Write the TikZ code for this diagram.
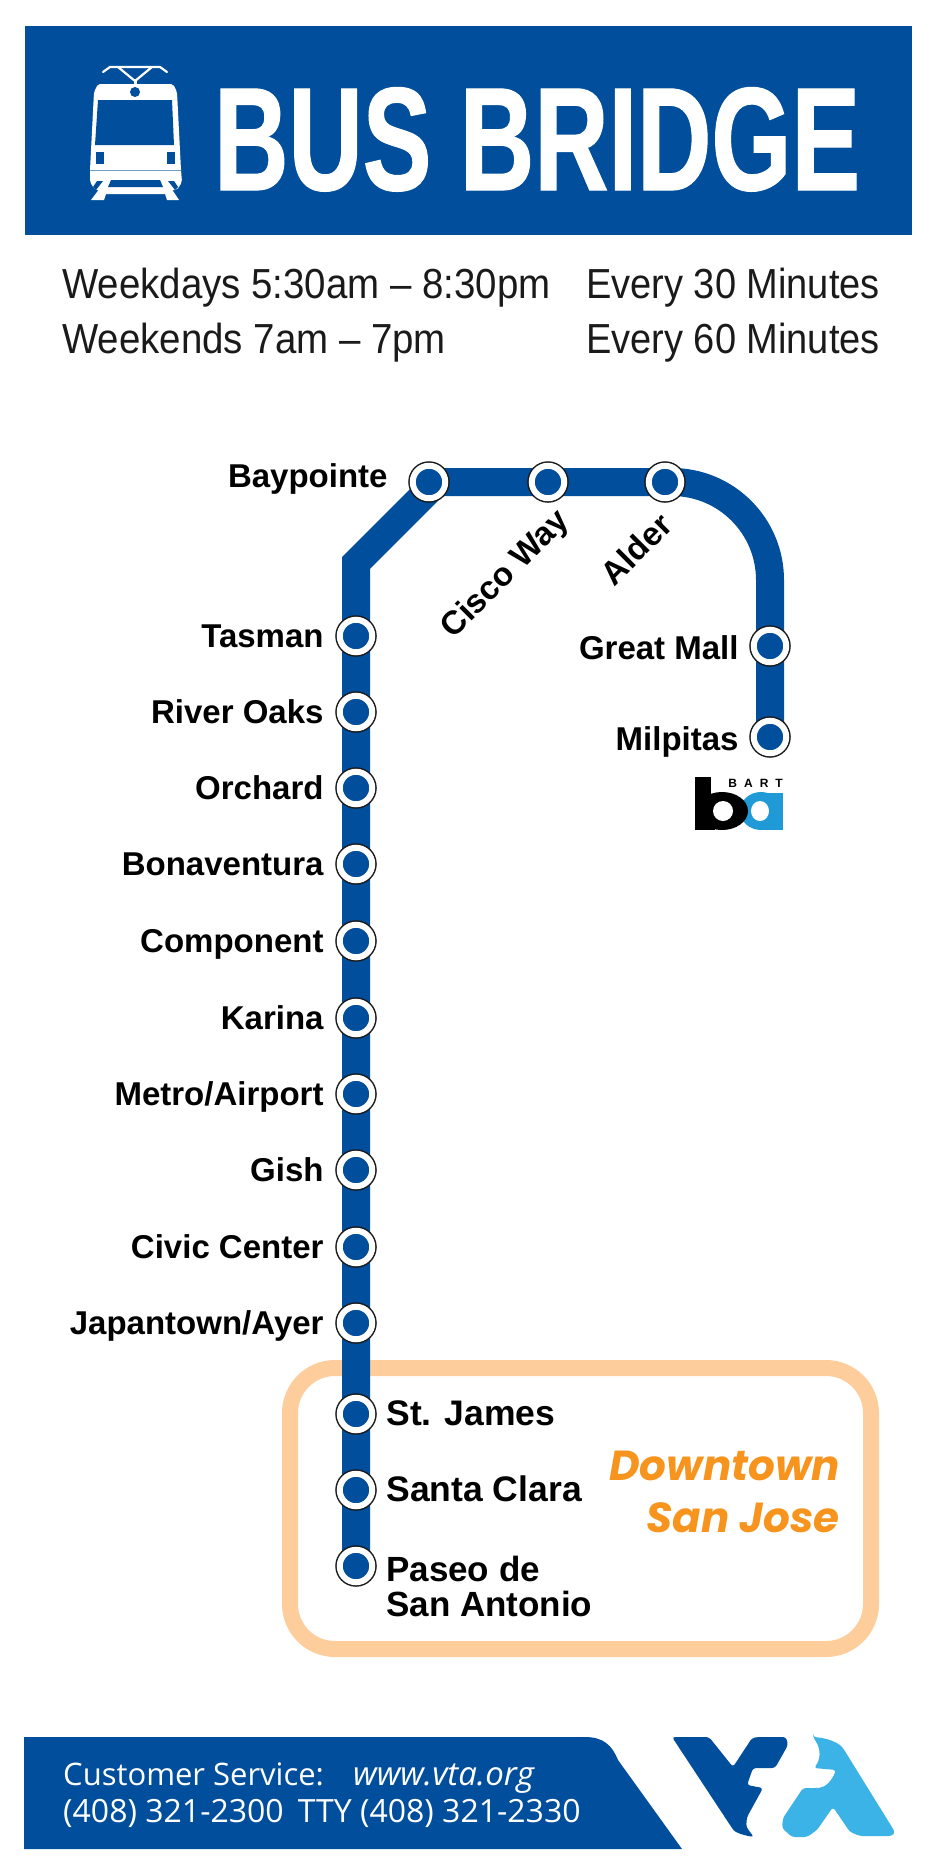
\documentclass[tikz,border=0pt]{standalone}
\usepackage{fontspec}
\setmainfont{Liberation Sans}
\newfontfamily\headfont[FakeStretch=0.70,BoldFeatures={FakeBold=0.8}]{Liberation Sans}
\newfontfamily\hoursfont[FakeStretch=0.915]{Liberation Sans}
\newfontfamily\everyfont[FakeStretch=0.905]{Liberation Sans}
\newfontfamily\downtownfont{Poppins}
\newfontfamily\servicefont{Open Sans}
\usetikzlibrary{positioning,backgrounds}

\definecolor{vtablue}{HTML}{004E9C}
\definecolor{vtasky}{HTML}{3BB3E6}
\definecolor{bartblue}{HTML}{1F9AD6}
\definecolor{zonepeach}{HTML}{FDCD9B}
\definecolor{zoneorange}{HTML}{F7941E}
\definecolor{inkdark}{HTML}{1A1A1A}

\begin{document}
\begin{tikzpicture}[x=1pt,y=-1pt,
	station/.style={circle, inner sep=0pt, outer sep=0pt, minimum size=32.5pt, fill=vtablue, draw=white, line width=6pt, preaction={draw=inkdark, line width=9pt}},
	stopname/.style={font=\fontsize{33}{35}\selectfont\bfseries, inner sep=0pt, text=black},
	stoplabel/.style={stopname, text height=23pt, text depth=0pt},
	zonelabel/.style={stoplabel, font=\fontsize{35.5}{38}\selectfont\bfseries},
	hours/.style={font=\fontsize{42}{46}\selectfont\hoursfont, inner sep=0pt, text=inkdark, anchor=base west},
	service/.style={font=\fontsize{31}{34}\selectfont\servicefont, inner sep=0pt, text=white, anchor=base west},
	zonetext/.style={font=\fontsize{42}{46}\selectfont\downtownfont\bfseries\itshape, inner sep=0pt, text=zoneorange, anchor=base east}]

	\useasboundingbox (0,0) rectangle (938,1876);

	% Header
	\fill[vtablue] (25,26) rectangle (912,235);
	\node[font=\fontsize{147}{150}\selectfont\headfont\bfseries, text=white, inner sep=0pt, anchor=base west] (title) at (214,190) {BUS BRIDGE};

	% Tram
	\fill[white, rounded corners=2pt] (98,84) -- (173,84) -- (177,92) -- (181,170) -- (182,182) -- (177,190) -- (95,190) -- (90,182) -- (90,170) -- (94,92) -- cycle;
	\fill[vtablue] (98,100) -- (172,100) -- (174,145) -- (95,145) -- cycle;
	\fill[vtablue] (135,92) circle (5);
	\fill[vtablue] (96,152) rectangle (104,164);
	\fill[vtablue] (167,152) rectangle (175,164);
	\draw[vtablue!55!white, line width=1pt] (90,170) -- (181,170);
	\fill[vtablue] (111,180) -- (160,180) -- (163,187) -- (108,187) -- cycle;
	\fill[vtablue] (97,181) -- (103,181) -- (96,190) -- (93,187) -- cycle;
	\fill[vtablue] (168,181) -- (174,181) -- (178,187) -- (175,190) -- cycle;
	\fill[white] (100,188) -- (171,188) -- (179,200) -- (167,200) -- (165,194) -- (106,194) -- (104,200) -- (91,200) -- cycle;
	\draw[white, line width=2.2pt, line cap=round] (103,72) -- (110,67) -- (160,67) -- (167,72);
	\draw[white, line width=2.2pt] (118,67) -- (135,81) -- (152,67);
	\draw[white, line width=3pt] (135,79) -- (135,86);

	% Times
	\node[hours] (weekdays) at (62,298) {Weekdays 5:30am – 8:30pm};
	\node[hours] (weekends) at (62,353) {Weekends 7am – 7pm};
	\node[hours, font=\fontsize{42}{46}\selectfont\everyfont] (everythirty) at (586,298) {Every 30 Minutes};
	\node[hours, font=\fontsize{42}{46}\selectfont\everyfont] (everysixty) at (586,353) {Every 60 Minutes};

	% Stations
	\node[station] (baypointe) at (429,482) {};
	\node[station] (cisco) at (548,482) {};
	\node[station] (alder) at (665,482) {};
	\node[station] (greatmall) at (770,646) {};
	\node[station] (milpitas) at (770,737) {};
	\node[station] (tasman) at (356,636) {};
	\node[station] (riveroaks) at (356,712) {};
	\node[station] (orchard) at (356,788) {};
	\node[station] (bonaventura) at (356,864) {};
	\node[station] (component) at (356,941) {};
	\node[station] (karina) at (356,1018) {};
	\node[station] (metro) at (356,1094) {};
	\node[station] (gish) at (356,1170) {};
	\node[station] (civic) at (356,1247) {};
	\node[station] (japantown) at (356,1323) {};
	\node[station] (stjames) at (356,1414) {};
	\node[station] (santaclara) at (356,1490) {};
	\node[station] (paseo) at (356,1566) {};
	\coordinate (bend) at (356,563);
	\coordinate (bendtop) at (437,482);

	% Line and downtown zone
	\begin{pgfonlayer}{background}
		\draw[zonepeach, line width=16pt, rounded corners=45pt] (290,1368) rectangle (871,1649);
		\draw[vtablue, line width=28pt, miter limit=4] (paseo.center) -- (bend) -- (bendtop) -- (alder.center) -- ++(7,0) arc[start angle=-90, end angle=0, radius=98] -- (milpitas.center);
	\end{pgfonlayer}

	% Labels
	\node[stoplabel, left=25pt of baypointe, yshift=6pt] (baypointelabel) {Baypointe};
	\node[stopname, rotate=45] (ciscolabel) at (506,575) {Cisco Way};
	\node[stopname, rotate=45] (alderlabel) at (636,549) {Alder};
	\node[stoplabel, left=15pt of greatmall, yshift=-2pt] (greatmalllabel) {Great Mall};
	\node[stoplabel, left=15pt of milpitas, yshift=-2pt] (milpitaslabel) {Milpitas};
	\node[stoplabel, left=16pt of tasman] (tasmanlabel) {Tasman};
	\node[stoplabel, left=16pt of riveroaks] (riveroakslabel) {River Oaks};
	\node[stoplabel, left=16pt of orchard] (orchardlabel) {Orchard};
	\node[stoplabel, left=16pt of bonaventura] (bonaventuralabel) {Bonaventura};
	\node[stoplabel, left=16pt of component] (componentlabel) {Component};
	\node[stoplabel, left=16pt of karina] (karinalabel) {Karina};
	\node[stoplabel, left=16pt of metro] (metrolabel) {Metro/Airport};
	\node[stoplabel, left=16pt of gish] (gishlabel) {Gish};
	\node[stoplabel, left=16pt of civic] (civiclabel) {Civic Center};
	\node[stoplabel, left=16pt of japantown] (japantownlabel) {Japantown/Ayer};
	\node[zonelabel, right=14pt of stjames] (stjameslabel) {St. James};
	\node[zonelabel, right=14pt of santaclara] (santaclaralabel) {Santa Clara};
	\node[stopname, font=\fontsize{35}{35}\selectfont\bfseries, align=left, anchor=north west] (paseolabel) at (386,1556) {Paseo de\\San Antonio};

	\node[zonetext] (downtown) at (840,1480) {Downtown};
	\node[zonetext] (sanjose) at (840,1532) {San Jose};

	% BART mark
	\fill[bartblue] (761,793) rectangle (783,830);
	\fill[bartblue] (761,811) ellipse (21 and 19);
	\fill[white] (760,811) ellipse (9 and 10);
	\fill[black] (695,777) rectangle (711,830);
	\fill[black] (722,811) ellipse (26 and 19);
	\fill[black] (695,800) rectangle (715,830);
	\fill[white] (723,811) ellipse (10 and 10);
	\node[font=\fontsize{12}{12}\selectfont\bfseries, inner sep=0pt, anchor=base east] (bart) at (783,787) {B\hspace{7pt}A\hspace{7pt}R\hspace{7pt}T};

	% Footer
	\fill[vtablue] (24,1737) -- (585,1737) .. controls (603,1737) and (612,1745) .. (618,1760) -- (682,1849) -- (24,1849) -- cycle;
	\node[service] (customer) at (63,1785) {Customer Service:};
	\node[service, font=\fontsize{33}{36}\selectfont\servicefont\itshape] (website) at (353,1785) {www.vta.org};
	\node[service, font=\fontsize{32}{34}\selectfont\servicefont] (phones) at (63,1822) {(408) 321-2300\hspace{14pt}TTY (408) 321-2330};

	% VTA mark
	\fill[vtablue, rounded corners=3pt] (672,1737) -- (709,1737) -- (733,1767) -- (752,1738) -- (758,1737) -- (786,1737) -- (788,1745) -- (775,1768) -- (753,1768) -- (747,1785) -- (763,1788) -- (747,1817) .. controls (746,1827) .. (754,1837) .. controls (742,1835) and (735,1832) .. (732,1828) -- cycle;
	\fill[vtasky, rounded corners=3pt] (813,1737) .. controls (828,1738) and (838,1743) .. (843,1748) -- (895,1832) -- (892,1836) -- (860,1836) -- (850,1832) -- (833,1807) -- (817,1830) -- (807,1837) -- (792,1837) -- (782,1828) -- (783,1818) -- (803,1788) -- (817,1788) .. controls (826,1787) and (832,1780) .. (836,1770) -- (814,1768) .. controls (820,1760) and (822,1750) .. cycle;
\end{tikzpicture}
\end{document}
